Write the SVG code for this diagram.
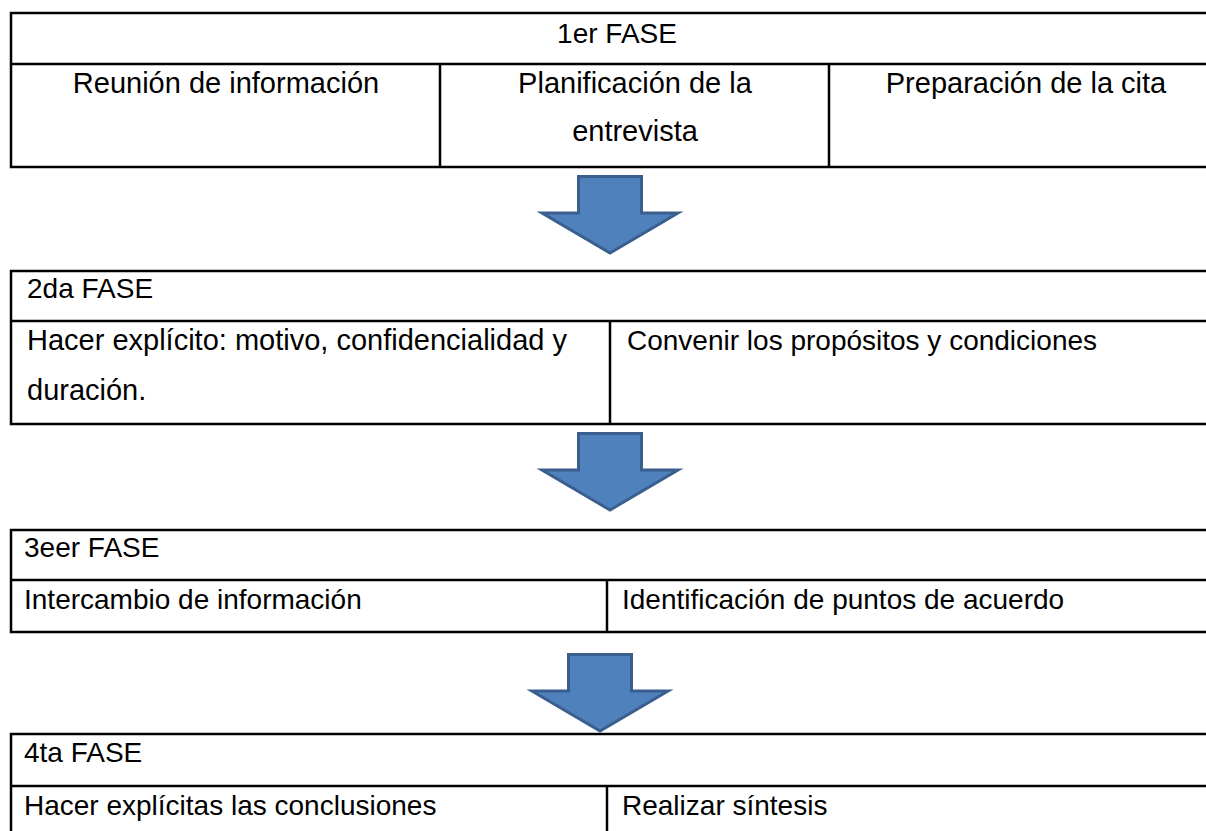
<svg xmlns="http://www.w3.org/2000/svg" width="1206" height="831" viewBox="0 0 1206 831">
<style>
.ln{stroke:#000;stroke-width:2.5;fill:none}
.t{font-family:"Liberation Sans",Arial,sans-serif;font-size:28px;fill:#000}
.b{font-size:29px}
.c{text-anchor:middle}
.arr{fill:#4f81bd;stroke:#3a5f8f;stroke-width:3;stroke-linejoin:miter}
</style>
<rect width="1206" height="831" fill="#fff"/>
<g id="fase1">
<rect class="ln" x="11" y="13" width="1212" height="154"/>
<line class="ln" x1="11" y1="64" x2="1223" y2="64"/>
<line class="ln" x1="440" y1="64" x2="440" y2="167"/>
<line class="ln" x1="829" y1="64" x2="829" y2="167"/>
<text class="t c" x="617" y="43">1er FASE</text>
<text class="t b c" x="226" y="93">Reunión de información</text>
<text class="t b c" x="635" y="93">Planificación de la</text>
<text class="t b c" x="635" y="141">entrevista</text>
<text class="t b c" x="1026" y="93">Preparación de la cita</text>
</g>
<g id="fase2">
<rect class="ln" x="11" y="271" width="1212" height="153"/>
<line class="ln" x1="11" y1="321" x2="1223" y2="321"/>
<line class="ln" x1="610" y1="321" x2="610" y2="424"/>
<text class="t" x="27" y="298">2da FASE</text>
<text class="t b" x="27" y="350">Hacer explícito: motivo, confidencialidad y</text>
<text class="t b" x="27" y="400">duración.</text>
<text class="t" x="627" y="350">Convenir los propósitos y condiciones</text>
</g>
<g id="fase3">
<rect class="ln" x="11" y="530" width="1212" height="102"/>
<line class="ln" x1="11" y1="580" x2="1223" y2="580"/>
<line class="ln" x1="607" y1="580" x2="607" y2="632"/>
<text class="t" x="24" y="557">3eer FASE</text>
<text class="t" x="24" y="609">Intercambio de información</text>
<text class="t" x="622" y="609">Identificación de puntos de acuerdo</text>
</g>
<g id="fase4">
<rect class="ln" x="11" y="734" width="1212" height="120"/>
<line class="ln" x1="11" y1="786" x2="1223" y2="786"/>
<line class="ln" x1="607" y1="786" x2="607" y2="854"/>
<text class="t" x="24" y="762">4ta FASE</text>
<text class="t" x="24" y="815">Hacer explícitas las conclusiones</text>
<text class="t" x="622" y="815">Realizar síntesis</text>
</g>
<g id="connectors">
<path class="arr" d="M578.5,176.5 H641.5 V213 H678 L610,253 L542,213 H578.5 Z"/>
<path class="arr" d="M578.5,433.5 H641.5 V470 H678 L610,510 L542,470 H578.5 Z"/>
<path class="arr" d="M568.5,654.5 H631.5 V691 H668 L600,731 L532,691 H568.5 Z"/>
</g>
</svg>
